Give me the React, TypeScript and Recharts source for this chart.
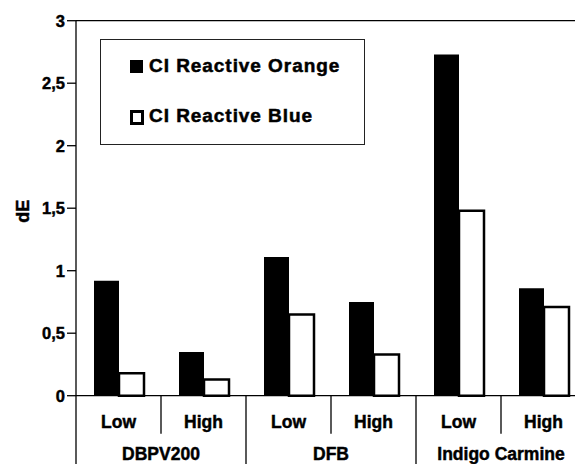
import React from 'react';
import { BarChart, Bar, XAxis, YAxis, ReferenceLine, Legend } from 'recharts';

const categories = ['Low', 'High', 'Low', 'High', 'Low', 'High'];
const groups = ['DBPV200', 'DFB', 'Indigo Carmine'];
const orangeValues = [0.92, 0.35, 1.11, 0.75, 2.73, 0.86];
const blueValues = [0.18, 0.13, 0.65, 0.33, 1.48, 0.71];
const yTicks = [0, 0.5, 1, 1.5, 2, 2.5, 3];
const seriesNames = ['CI Reactive Orange', 'CI Reactive Blue'];

const data = categories.map((c, i) => ({
  key: `${groups[Math.floor(i / 2)]}-${c}`,
  orange: orangeValues[i],
  blue: blueValues[i],
}));

const CHART_W = 600;
const CHART_H = 464;
const Y_AXIS_W = 76;
const RIGHT = 14;
const BAND = (CHART_W - Y_AXIS_W - RIGHT) / categories.length;
const FONT = '"Liberation Sans", Arial, Helvetica, sans-serif';
const EMBOLDEN = 0.45;

const XTick = (props: any) => {
  const { x, y, payload } = props;
  const i: number = props.index ?? payload.index;
  const half = BAND / 2;
  const textProps = {
    textAnchor: 'middle' as const,
    fontFamily: FONT,
    fontWeight: 'bold',
    fontSize: 17.5,
    fill: '#000',
    stroke: '#000',
    strokeWidth: EMBOLDEN,
  };
  return (
    <g>
      <text x={x} y={y + 32.5} {...textProps}>
        {categories[i]}
      </text>
      {i % 2 === 0 ? (
        <line x1={x + half} x2={x + half} y1={y} y2={y + 38} stroke="#000" strokeWidth={1.3} />
      ) : (
        <line x1={x + half} x2={x + half} y1={y} y2={y + 70} stroke="#000" strokeWidth={1.3} />
      )}
      {i % 2 === 1 && (
        <text x={x - half} y={y + 64.5} {...textProps}>
          {groups[(i - 1) / 2]}
        </text>
      )}
      {i === 0 && <line x1={x - half} x2={x - half} y1={y} y2={y + 70} stroke="#000" strokeWidth={1.3} />}
    </g>
  );
};

const YLabel = (props: any) => {
  const vb = props.viewBox || { y: 20, height: 375 };
  const cy = vb.y + vb.height / 2 + 3;
  return (
    <text
      transform={`translate(23, ${cy}) rotate(-90)`}
      textAnchor="middle"
      dominantBaseline="central"
      fontFamily={FONT}
      fontWeight="bold"
      fontSize={18}
      fill="#000"
      stroke="#000"
      strokeWidth={EMBOLDEN}
    >
      dE
    </text>
  );
};

const LegendBox = () => {
  const textStyle: React.CSSProperties = {
    position: 'absolute',
    left: 48,
    fontFamily: FONT,
    fontWeight: 'bold',
    fontSize: 19,
    lineHeight: '19px',
    letterSpacing: 0.95,
    whiteSpace: 'nowrap',
    color: '#000',
    WebkitTextStroke: '0.5px #000',
  };
  return (
    <div
      style={{
        position: 'relative',
        width: 265,
        height: 106,
        boxSizing: 'border-box',
        border: '1.3px solid #222',
        background: '#fff',
      }}
    >
      <div style={{ position: 'absolute', left: 29, top: 20, width: 13, height: 13, background: '#000' }} />
      <div style={{ ...textStyle, top: 15.6 }}>{seriesNames[0]}</div>
      <div
        style={{
          position: 'absolute',
          left: 28.5,
          top: 70,
          width: 14.5,
          height: 14.5,
          boxSizing: 'border-box',
          border: '3px solid #000',
          background: '#fff',
        }}
      />
      <div style={{ ...textStyle, top: 65.6 }}>{seriesNames[1]}</div>
    </div>
  );
};

export default function App() {
  return (
    <div style={{ position: 'absolute', left: 0, top: 0, width: 575, height: 464, overflow: 'hidden', background: '#fff' }}>
      <BarChart
        width={CHART_W}
        height={CHART_H}
        data={data}
        margin={{ top: 20.7, right: RIGHT, bottom: 0, left: 0 }}
        barSize={25}
        barGap={0}
      >
        <XAxis
          dataKey="key"
          axisLine={{ stroke: '#000', strokeWidth: 1.3 }}
          tickLine={false}
          tickSize={0}
          tickMargin={0}
          height={68.3}
          interval={0}
          tick={<XTick />}
        />
        <YAxis
          domain={[0, 3]}
          ticks={yTicks}
          width={Y_AXIS_W}
          axisLine={{ stroke: '#000', strokeWidth: 1.3 }}
          tickLine={{ stroke: '#000', strokeWidth: 1.3 }}
          tickSize={9}
          tickMargin={2}
          tickFormatter={(v: number) => String(v).replace('.', ',')}
          tick={{ fill: '#000', stroke: '#000', strokeWidth: EMBOLDEN, fontFamily: FONT, fontWeight: 'bold', fontSize: 16.5 }}
          label={<YLabel />}
        />
        <ReferenceLine y={3} stroke="#000" strokeWidth={1.3} />
        <Legend
          layout="horizontal"
          verticalAlign="middle"
          align="center"
          wrapperStyle={{ left: 100, top: 39, width: 265, height: 106 }}
          content={<LegendBox />}
        />
        <Bar dataKey="orange" name={seriesNames[0]} fill="#000" isAnimationActive={false} />
        <Bar dataKey="blue" name={seriesNames[1]} fill="#fff" stroke="#000" strokeWidth={2.5} isAnimationActive={false} />
      </BarChart>
    </div>
  );
}
